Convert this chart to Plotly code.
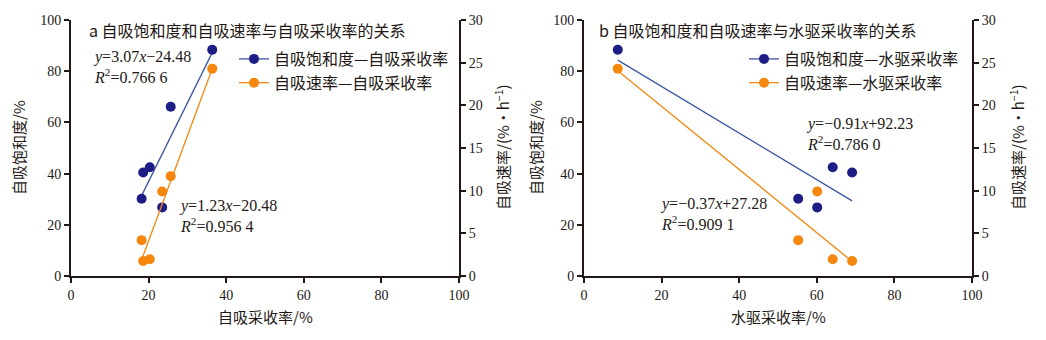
import plotly.graph_objects as go

# Core samples: self-imbibition recovery, waterflood recovery, imbibition saturation and rate
imb_recovery = [18.2, 18.6, 20.3, 23.5, 25.7, 36.4]   # 自吸采收率 / %
wf_recovery = [55.2, 69.1, 64.1, 60.1, None, 8.7]     # 水驱采收率 / %
imb_saturation = [30.2, 40.4, 42.5, 26.8, 66.1, 88.4] # 自吸饱和度 / %
imb_rate = [4.2, 1.76, 1.96, 9.9, 11.7, 24.3]         # 自吸速率 / (%·h^-1)

# Linear fits (slope, intercept)
fit_sat_imb = (3.07, -24.48)
fit_rate_imb = (1.23, -20.48)
fit_sat_wf = (-0.91, 92.23)
fit_rate_wf = (-0.37, 27.28)

x_ticks = [0, 20, 40, 60, 80, 100]
y_left_ticks = [0, 20, 40, 60, 80, 100]
y_right_ticks = [0, 5, 10, 15, 20, 25, 30]

BLUE_M = "#1d1d85"
BLUE_L = "#3d55a5"
ORANGE = "#f5870f"
AXIS = "#231815"
SERIF = "Liberation Serif, Times New Roman, Noto Sans CJK SC, serif"
CJK = "Noto Sans CJK SC, Liberation Serif, sans-serif"

W, H = 1046, 340


def px_x(p):
    return p / W


def px_y(p):
    return 1 - p / H


def fit_line(xs, coef):
    vals = [v for v in xs if v is not None]
    x0, x1 = min(vals), max(vals)
    return [x0, x1], [coef[0] * x0 + coef[1], coef[0] * x1 + coef[1]]


def pair(xs, ys):
    pts = [(a, b) for a, b in zip(xs, ys) if a is not None]
    return [p[0] for p in pts], [p[1] for p in pts]


fig = go.Figure()

panels = [
    # x values, x axis, left y, right y, sat fit, rate fit, legend, legend names
    (imb_recovery, "x", "y", "y2", fit_sat_imb, fit_rate_imb, "legend",
     ["自吸饱和度—自吸采收率", "自吸速率—自吸采收率"]),
    (wf_recovery, "x2", "y3", "y4", fit_sat_wf, fit_rate_wf, "legend2",
     ["自吸饱和度—水驱采收率", "自吸速率—水驱采收率"]),
]

for xs, xa, ya, yb, fs, fr, lg, names in panels:
    lx, ly = fit_line(xs, fs)
    fig.add_trace(go.Scatter(x=lx, y=ly, xaxis=xa, yaxis=ya, mode="lines",
                             line=dict(color=BLUE_L, width=1.3), showlegend=False))
    lx, ly = fit_line(xs, fr)
    fig.add_trace(go.Scatter(x=lx, y=ly, xaxis=xa, yaxis=yb, mode="lines",
                             line=dict(color=ORANGE, width=1.3), showlegend=False))
    sx, sy = pair(xs, imb_saturation)
    fig.add_trace(go.Scatter(x=sx, y=sy, xaxis=xa, yaxis=ya, mode="markers",
                             marker=dict(color=BLUE_M, size=10), showlegend=False))
    rx, ry = pair(xs, imb_rate)
    fig.add_trace(go.Scatter(x=rx, y=ry, xaxis=xa, yaxis=yb, mode="markers",
                             marker=dict(color=ORANGE, size=10), showlegend=False))
    # legend entries
    fig.add_trace(go.Scatter(x=[None], y=[None], xaxis=xa, yaxis=ya, mode="lines+markers",
                             name=names[0], legend=lg,
                             line=dict(color=BLUE_L, width=1.3),
                             marker=dict(color=BLUE_M, size=10)))
    fig.add_trace(go.Scatter(x=[None], y=[None], xaxis=xa, yaxis=yb, mode="lines+markers",
                             name=names[1], legend=lg,
                             line=dict(color=ORANGE, width=1.3),
                             marker=dict(color=ORANGE, size=10)))

tick_font = dict(family=SERIF, size=14, color=AXIS)
base = dict(showline=True, linecolor=AXIS, linewidth=2, ticks="outside", ticklen=5,
            tickwidth=1.5, tickcolor=AXIS, showgrid=False, zeroline=False,
            tickfont=tick_font, automargin=False, fixedrange=True)
common_x = dict(range=[0, 100], tickvals=x_ticks, **base)
common_yl = dict(range=[0, 100], tickvals=y_left_ticks, side="left", **base)
common_yr = dict(range=[0, 30], tickvals=y_right_ticks, side="right", **base)

y_dom = [px_y(276), px_y(20)]
legend_style = dict(xanchor="left", yanchor="top", bgcolor="rgba(0,0,0,0)",
                    font=dict(family=CJK, size=16, color=AXIS), tracegroupgap=0,
                    itemwidth=30)
fig.update_layout(
    width=W, height=H,
    margin=dict(l=0, r=0, t=0, b=0, pad=0, autoexpand=False),
    paper_bgcolor="white", plot_bgcolor="white",
    xaxis=dict(domain=[px_x(71), px_x(459)], anchor="y", **common_x),
    yaxis=dict(domain=y_dom, anchor="x", **common_yl),
    yaxis2=dict(overlaying="y", anchor="x", **common_yr),
    xaxis2=dict(domain=[px_x(584), px_x(972)], anchor="y3", **common_x),
    yaxis3=dict(domain=y_dom, anchor="x2", **common_yl),
    yaxis4=dict(overlaying="y3", anchor="x2", **common_yr),
    legend=dict(x=px_x(234), y=px_y(42), **legend_style),
    legend2=dict(x=px_x(744), y=px_y(42), **legend_style),
    showlegend=True,
)

ann = []
# panel titles
title_top = dict(family=CJK, size=16, color=AXIS)
ann.append(dict(x=px_x(87), y=px_y(30), xref="paper", yref="paper", xanchor="left", yanchor="middle",
                text="a 自吸饱和度和自吸速率与自吸采收率的关系", showarrow=False, font=title_top))
ann.append(dict(x=px_x(597), y=px_y(30), xref="paper", yref="paper", xanchor="left", yanchor="middle",
                text="b 自吸饱和度和自吸速率与水驱采收率的关系", showarrow=False, font=title_top))

# axis titles
title_font = dict(family=CJK, size=15, color=AXIS)
for xc, txt in [(265, "自吸采收率/%"), (778, "水驱采收率/%")]:
    ann.append(dict(x=px_x(xc), y=px_y(316), xref="paper", yref="paper", xanchor="center",
                    yanchor="middle", text=txt, showarrow=False, font=title_font))
for xc, yc, txt in [(18, 148, "自吸饱和度/%"), (535, 148, "自吸饱和度/%"),
                    (502, 147, "自吸速率/(%·h<sup>−1</sup>)"),
                    (1017, 147, "自吸速率/(%·h<sup>−1</sup>)")]:
    ann.append(dict(x=px_x(xc), y=px_y(yc), xref="paper", yref="paper", xanchor="center",
                    yanchor="middle", text=txt, showarrow=False, textangle=-90, font=title_font))


def eq_text(coef, r2):
    a, b = coef
    sa = f"{a:.2f}".replace("-", "−")
    sb = (f"+{b:.2f}" if b >= 0 else f"−{abs(b):.2f}")
    return f"<i>y</i>={sa}<i>x</i>{sb}<br><i>R</i><sup>2</sup>={r2}"


eq_font = dict(family=SERIF, size=16, color=AXIS)
for xp, yp, coef, r2 in [(91, 67, fit_sat_imb, "0.766 6"),
                         (177, 216, fit_rate_imb, "0.956 4"),
                         (804, 134, fit_sat_wf, "0.786 0"),
                         (658, 214, fit_rate_wf, "0.909 1")]:
    ann.append(dict(x=px_x(xp), y=px_y(yp), xref="paper", yref="paper", xanchor="left",
                    yanchor="middle", align="left", text=eq_text(coef, r2), showarrow=False,
                    font=eq_font))

fig.update_layout(annotations=ann)
fig.write_html("out.html")
